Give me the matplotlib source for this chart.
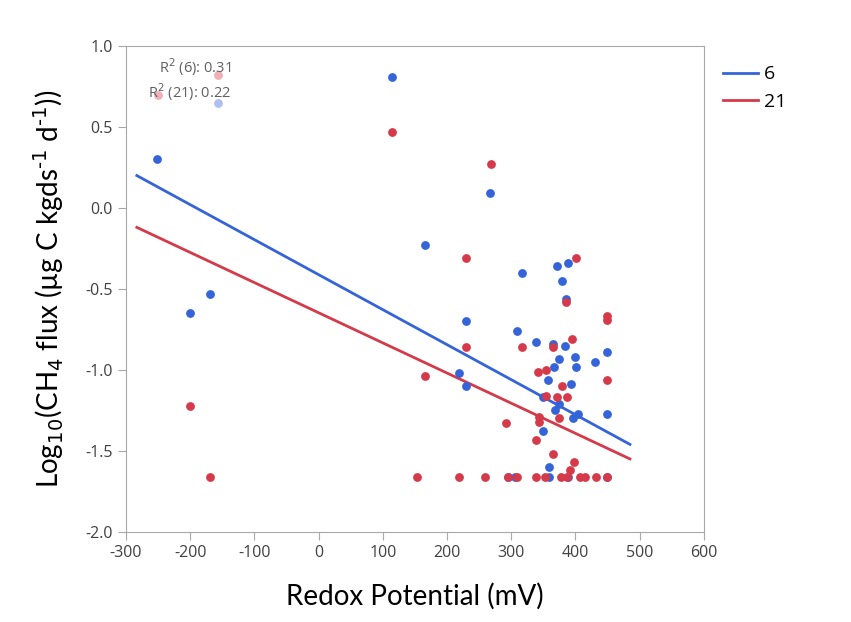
import matplotlib.pyplot as plt
import numpy as np

# depth 6 (blue)
x6 = [-252, -157, 114, -200, -169, 166, 267, 230, 230, 219, 317, 371, 388, 379, 385,
      309, 339, 365, 384, 449, 374, 399, 401, 430, 366, 357, 393, 349, 374, 369, 449,
      396, 404, 349, 359, 295, 306, 359, 388, 449]
y6 = [0.30, 0.65, 0.81, -0.65, -0.53, -0.23, 0.09, -0.70, -1.10, -1.02, -0.40, -0.36, -0.34, -0.45, -0.56,
      -0.76, -0.83, -0.84, -0.85, -0.89, -0.93, -0.92, -0.98, -0.95, -0.98, -1.06, -1.09, -1.17, -1.21, -1.25, -1.27,
      -1.30, -1.27, -1.38, -1.60, -1.66, -1.66, -1.66, -1.66, -1.66]

# depth 21 (red)
x21 = [-250, -157, 114, 268, -200, -169, 166, 230, 230, 401, 385, 449, 449, 317, 365,
       395, 342, 354, 379, 449, 354, 371, 387, 374, 343, 343, 292, 338, 365, 398, 392,
       153, 219, 260, 295, 309, 339, 353, 377, 387, 407, 415, 432, 449]
y21 = [0.70, 0.82, 0.47, 0.27, -1.22, -1.66, -1.04, -0.31, -0.86, -0.31, -0.58, -0.67, -0.69, -0.86, -0.86,
       -0.81, -1.01, -1.00, -1.10, -1.06, -1.16, -1.17, -1.17, -1.30, -1.29, -1.32, -1.33, -1.43, -1.52, -1.57, -1.62,
       -1.66, -1.66, -1.66, -1.66, -1.66, -1.66, -1.66, -1.66, -1.66, -1.66, -1.66, -1.66, -1.66]

# fitted lines, ends
fit_x = [-283, 485]
fit6 = [0.20, -1.46]
fit21 = [-0.12, -1.55]

blue = '#3563d8'
red = '#d53a4a'

plt.rcParams['font.family'] = ['Open Sans', 'DejaVu Sans']
plt.rcParams['axes.unicode_minus'] = False
fig = plt.figure(figsize=(8.51, 6.22), dpi=100)
ax = fig.add_axes([0.148, 0.145, 0.679, 0.781])

ax.scatter(x6, y6, s=40, color=blue, zorder=3, linewidths=0)
ax.scatter(x21, y21, s=40, color=red, zorder=3, linewidths=0)
ax.plot(fit_x, fit6, color=blue, lw=2, label='6', zorder=2)
ax.plot(fit_x, fit21, color=red, lw=2, label='21', zorder=2)

ax.text(0.182, 0.957, 'R$^2$ (6): 0.31', transform=ax.transAxes, ha='right', va='center',
        fontsize=10.5, color='#606060', zorder=5)
ax.text(0.182, 0.905, 'R$^2$ (21): 0.22', transform=ax.transAxes, ha='right', va='center',
        fontsize=10.5, color='#606060', zorder=5)
ax.add_patch(plt.Rectangle((0.01, 0.86), 0.19, 0.13, transform=ax.transAxes,
                           facecolor='white', alpha=0.6, edgecolor='none', zorder=4))

ax.set_xlim(-300, 600)
ax.set_ylim(-2.0, 1.0)
ax.set_xticks(range(-300, 601, 100))
ax.set_yticks(np.arange(-2.0, 1.01, 0.5))
ax.set_yticklabels(['-2.0', '-1.5', '-1.0', '-0.5', '0.0', '0.5', '1.0'])
for s in ax.spines.values():
    s.set_color('#a8a8a8')
ax.tick_params(colors='#a8a8a8', labelcolor='#404040', labelsize=11.5, length=6)

ax.set_xlabel('Redox Potential (mV)', fontsize=20, family=['Lato', 'DejaVu Sans'], labelpad=16)
ax.set_ylabel(r'Log$_{10}$(CH$_4$ flux (µg C kgds$^{\text{-}1}$ d$^{\text{-}1}$))', fontsize=20,
              family=['Lato', 'DejaVu Sans'], labelpad=14)

ax.legend(loc='upper left', bbox_to_anchor=(1.0, 1.0), frameon=False, fontsize=14,
          handlelength=1.8, handletextpad=0.3, borderaxespad=0.6)

plt.savefig('out.png', dpi=100)
